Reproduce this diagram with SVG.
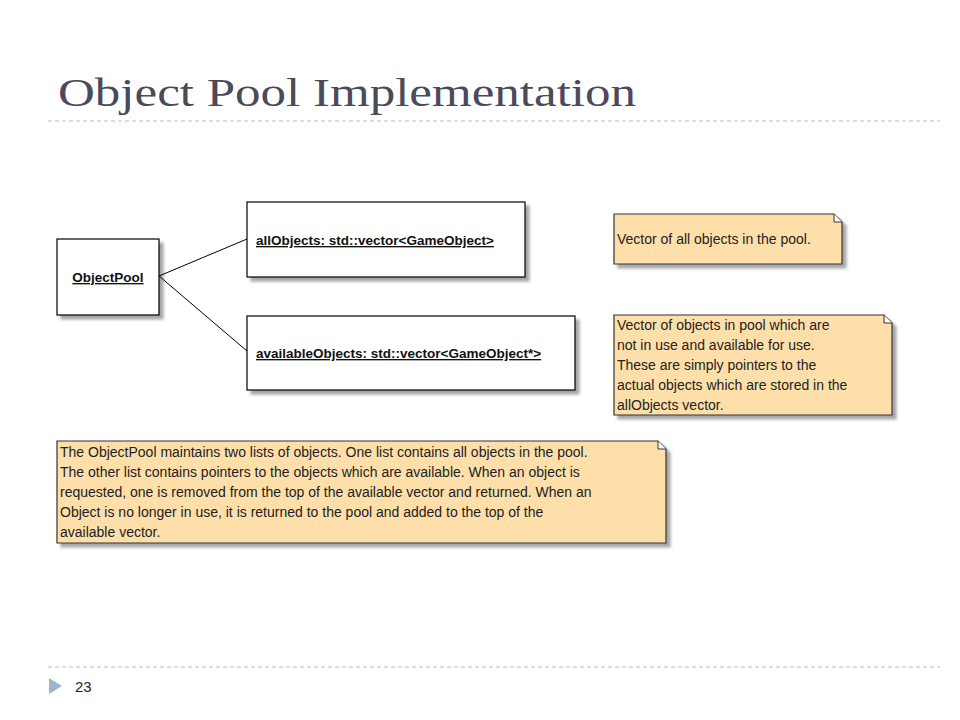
<svg xmlns="http://www.w3.org/2000/svg" width="960" height="720" viewBox="0 0 960 720">
<defs>
<filter id="sh" x="-5%" y="-5%" width="115%" height="130%"><feDropShadow dx="4" dy="4" stdDeviation="1.5" flood-color="#000" flood-opacity="0.35"/></filter>
</defs>
<style>
.box{fill:#fff;stroke:#000;stroke-width:1.2;filter:url(#sh)}
.note{fill:#fedfaa;stroke:#333;stroke-width:1.2;filter:url(#sh)}
.fold{fill:#fff;stroke:#333;stroke-width:1}
.u{font-family:"Liberation Sans",Arial,sans-serif;font-size:13.5px;font-weight:bold;text-decoration:underline;fill:#111}
.t{font-family:"Liberation Sans",Arial,sans-serif;font-size:14px;fill:#222}
.dash{stroke:#a9bfd0;stroke-width:1;stroke-dasharray:4 3}
</style>
<rect width="960" height="720" fill="#fff"/>
<text x="58" y="106" font-family="Liberation Serif,serif" font-size="41" fill="#4a4a5a" textLength="578" lengthAdjust="spacingAndGlyphs">Object Pool Implementation</text>
<line class="dash" x1="48" y1="121" x2="940" y2="121"/>
<line class="dash" x1="48" y1="667" x2="940" y2="667"/>
<polygon points="49,678 62,686 49,694" fill="#9ab5cc"/>
<text x="75" y="692" font-family="Liberation Sans,sans-serif" font-size="15" fill="#222">23</text>
<g id="connectors" stroke="#000" stroke-width="1" fill="none">
<line x1="159" y1="276" x2="247" y2="239"/>
<line x1="159" y1="276" x2="247" y2="351"/>
</g>
<g id="objectpool"><rect class="box" x="57" y="239" width="102" height="76"/><text class="u" x="108" y="282" text-anchor="middle">ObjectPool</text></g>
<g id="allObjects"><rect class="box" x="247" y="202" width="278" height="75"/><text class="u" x="256" y="245">allObjects: std::vector&lt;GameObject&gt;</text></g>
<g id="availableObjects"><rect class="box" x="247" y="316" width="328" height="74"/><text class="u" x="256" y="358">availableObjects: std::vector&lt;GameObject*&gt;</text></g>
<g id="note1"><path class="note" d="M614,214 H834 L842,222 V264 H614 Z"/><path class="fold" d="M834,214 V222 H842"/><text class="t" x="617" y="244">Vector of all objects in the pool.</text></g>
<g id="note2"><path class="note" d="M614,315 H884 L892,323 V415 H614 Z"/><path class="fold" d="M884,315 V323 H892"/>
<text class="t" x="617" y="330">Vector of objects in pool which are</text>
<text class="t" x="617" y="350">not in use and available for use.</text>
<text class="t" x="617" y="370">These are simply pointers to the</text>
<text class="t" x="617" y="390">actual objects which are stored in the</text>
<text class="t" x="617" y="410">allObjects vector.</text></g>
<g id="note3"><path class="note" d="M57,441 H658 L666,449 V543 H57 Z"/><path class="fold" d="M658,441 V449 H666"/>
<text class="t" x="60" y="457">The ObjectPool maintains two lists of objects. One list contains all objects in the pool.</text>
<text class="t" x="60" y="477">The other list contains pointers to the objects which are available. When an object is</text>
<text class="t" x="60" y="497">requested, one is removed from the top of the available vector and returned. When an</text>
<text class="t" x="60" y="517">Object is no longer in use, it is returned to the pool and added to the top of the</text>
<text class="t" x="60" y="537">available vector.</text></g>
</svg>
